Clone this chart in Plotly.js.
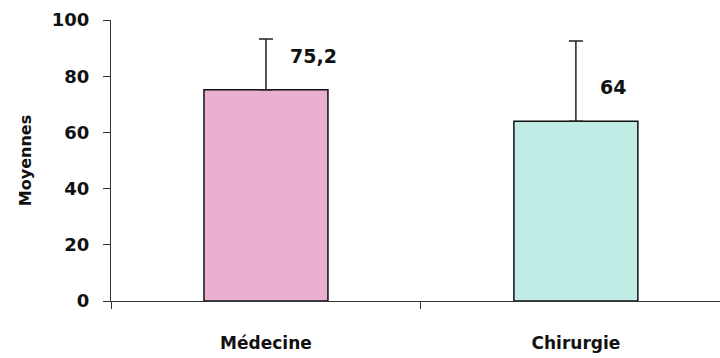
<!DOCTYPE html>
<html>
<head>
<meta charset="utf-8">
<script src="https://cdn.plot.ly/plotly-3.0.1.min.js"></script>
<style>html,body{margin:0;padding:0;background:#fff;}#chart{width:720px;height:358px;}</style>
</head>
<body>
<div id="chart"></div>
<script>
const categories = ["Médecine", "Chirurgie"];
const means = [75.2, 64];
const sdUpper = [18, 28.5];
const valueLabels = ["75,2", "64"];
const barColors = ["#eab0d2", "#bfede5"];

const trace = {
  type: "bar",
  x: categories,
  y: means,
  width: 0.4,
  marker: { color: barColors, line: { color: "#111", width: 1.5 } },
  error_y: { type: "data", array: sdUpper, arrayminus: [0, 0], symmetric: false, color: "#222", thickness: 1.5, width: 7 },
  hoverinfo: "none"
};

const annotations = means.map((v, i) => ({
  x: i + 0.07, y: v + 12, xref: "x", yref: "y",
  text: valueLabels[i], showarrow: false, xanchor: "left", yanchor: "middle",
  font: { family: "DejaVu Sans", size: 19, color: "#111", weight: "bold" }
}));

const layout = {
  width: 720, height: 358,
  margin: { l: 111, r: 0, t: 20, b: 57 },
  paper_bgcolor: "#fff", plot_bgcolor: "#fff",
  showlegend: false,
  xaxis: {
    type: "category",
    range: [-0.5, 1.465],
    tickson: "boundaries", ticks: "outside", ticklen: 7, tickcolor: "#333", tickwidth: 1,
    showline: true, linecolor: "#333", linewidth: 1,
    showgrid: false, zeroline: false,
    ticklabelstandoff: 27,
    tickfont: { family: "DejaVu Sans", size: 17, color: "#111", weight: "bold" }
  },
  yaxis: {
    range: [0, 100], tickvals: [0, 20, 40, 60, 80, 100],
    ticks: "outside", ticklen: 7, tickcolor: "#333",
    showline: true, linecolor: "#333", linewidth: 1,
    showgrid: false, zeroline: false,
    ticklabelstandoff: 10,
    tickfont: { family: "DejaVu Sans", size: 18, color: "#111", weight: "bold" },
    title: { text: "Moyennes", font: { family: "DejaVu Sans", size: 16, color: "#111", weight: "bold" }, standoff: 16 }
  },
  annotations: annotations
};

Plotly.newPlot("chart", [trace], layout, { displayModeBar: false, staticPlot: true });
</script>
</body>
</html>
